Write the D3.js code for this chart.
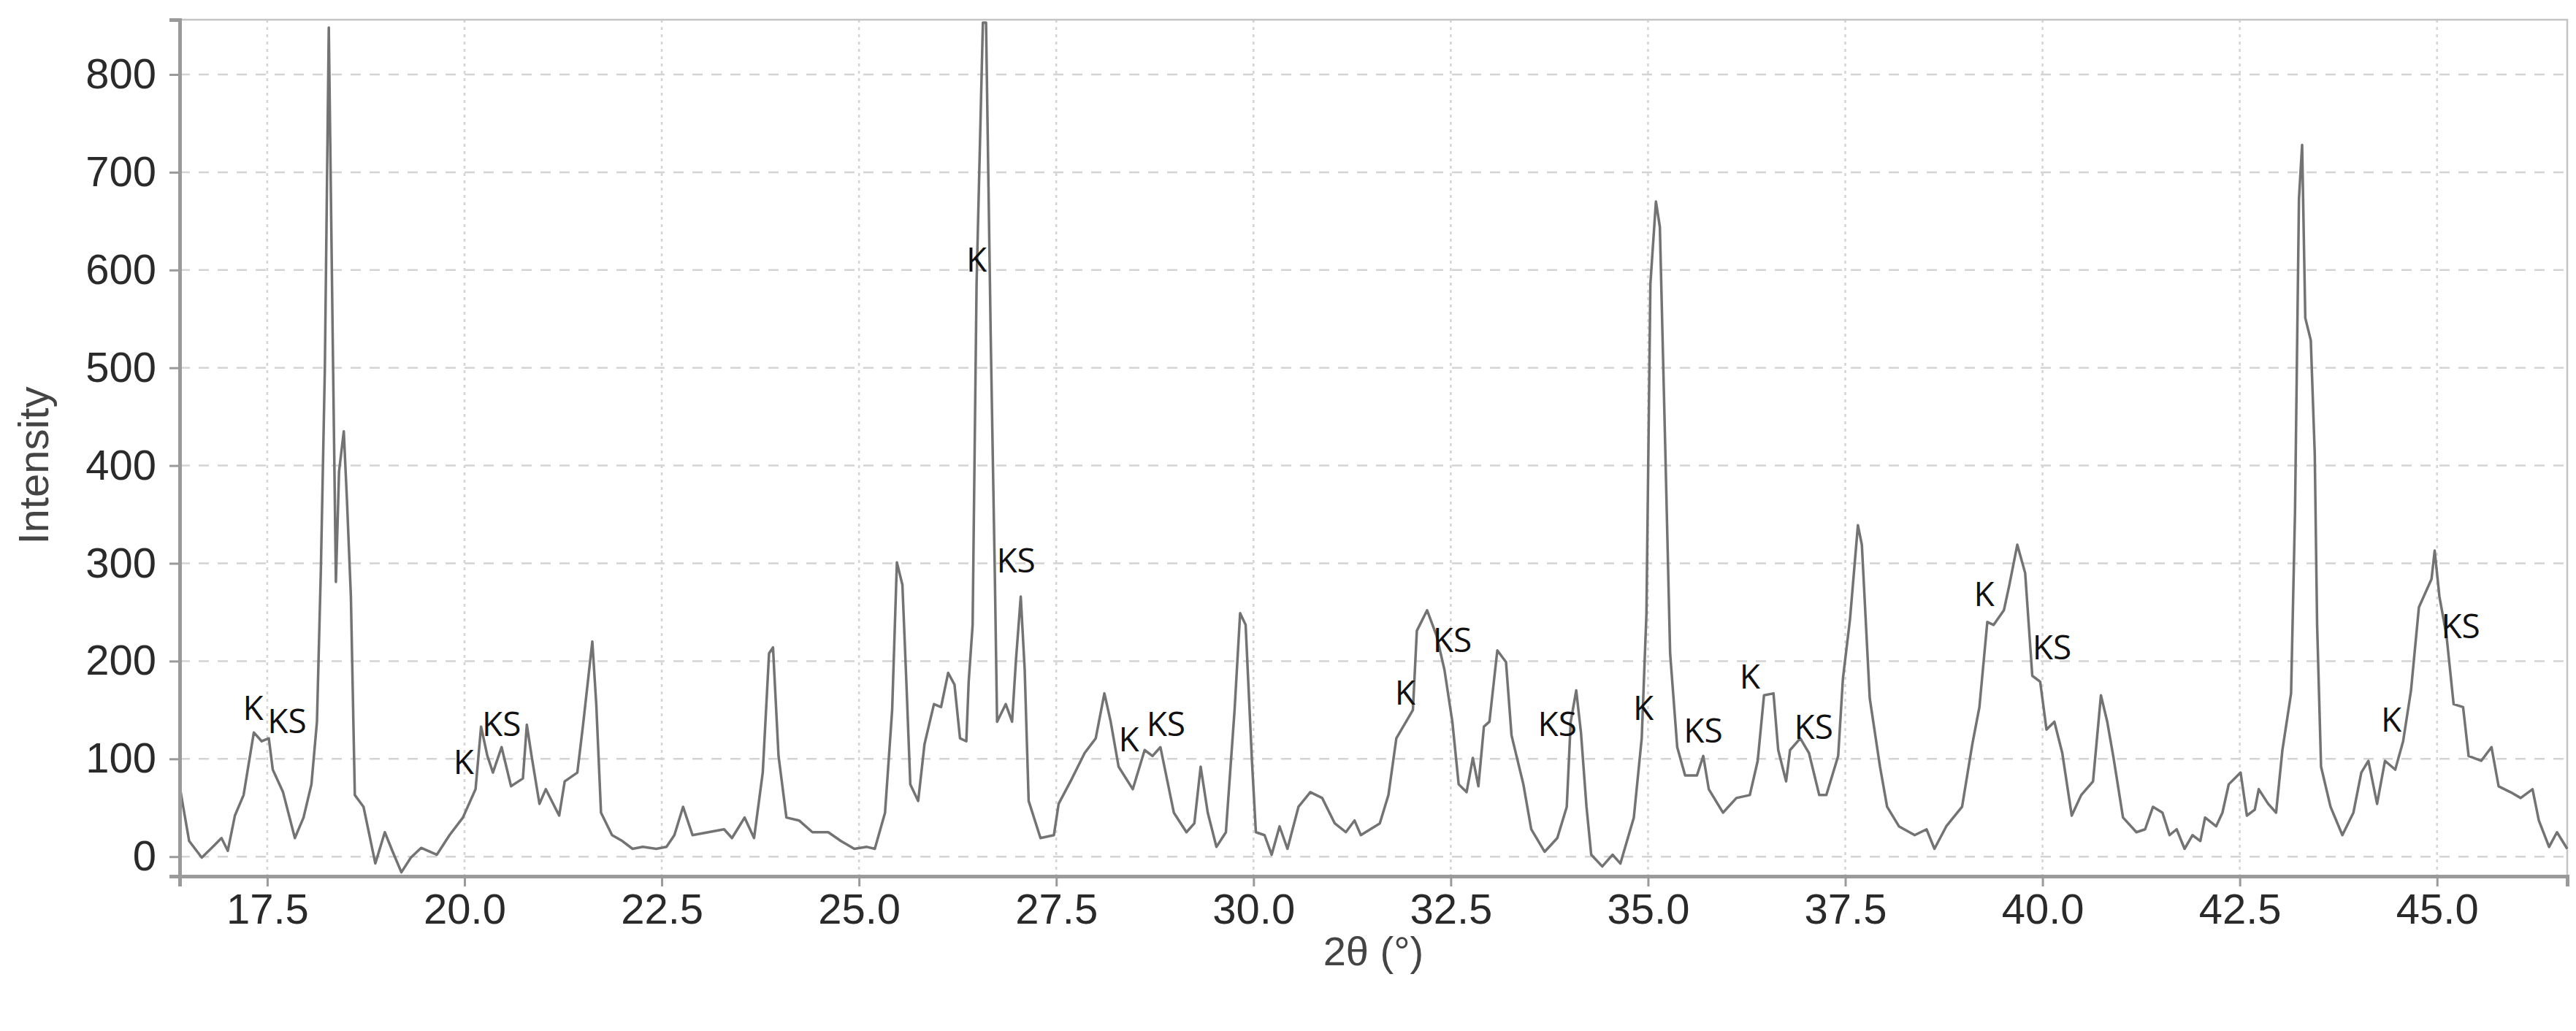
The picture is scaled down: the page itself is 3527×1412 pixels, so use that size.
<!DOCTYPE html>
<html>
<head>
<meta charset="utf-8">
<script src="https://cdn.jsdelivr.net/npm/d3@7"></script>
<style>
  body { margin: 0; background: #fff; }
  svg { display: block; }
</style>
</head>
<body>
<svg id="chart" width="3527" height="1412"></svg>
<script>
// 2θ positions and intensities
const twoTheta = [16.39,16.51,16.67,16.81,16.92,17.0,17.09,17.2,17.33,17.43,17.52,17.57,17.7,17.85,17.96,18.06,18.13,18.18,18.23,18.28,18.33,18.37,18.41,18.47,18.51,18.56,18.61,18.72,18.87,18.99,19.09,19.2,19.32,19.45,19.65,19.81,19.98,20.14,20.21,20.29,20.36,20.47,20.59,20.74,20.79,20.85,20.95,21.03,21.2,21.27,21.43,
  21.5,21.62,21.67,21.73,21.87,22.0,22.13,22.26,22.43,22.56,22.66,22.77,22.89,23.09,23.29,23.39,23.55,23.67,23.78,23.86,23.91,23.98,24.08,24.24,24.41,24.61,24.77,24.94,25.1,25.2,25.33,25.42,25.48,25.55,25.6,25.65,25.75,25.83,25.95,26.04,26.13,26.21,26.28,26.36,26.39,26.44,26.49,26.57,
  26.61,26.67,26.72,26.75,26.86,26.94,26.99,27.05,27.1,27.15,27.3,27.47,27.53,27.7,27.86,28.0,28.11,28.19,28.29,28.47,28.62,28.72,28.82,28.99,29.15,29.25,29.33,29.42,29.53,29.65,29.76,29.83,29.9,29.98,30.03,30.14,30.23,30.33,30.43,30.57,30.72,30.87,31.03,31.17,31.28,31.36,31.6,
  31.71,31.81,32.02,32.07,32.2,32.32,32.42,32.52,32.6,32.7,32.78,32.85,32.92,32.99,33.09,33.2,33.27,33.42,33.52,33.69,33.85,33.97,34.02,34.09,34.15,34.22,34.28,34.42,34.55,34.65,34.82,34.92,34.98,35.03,35.1,35.15,35.22,35.28,35.37,35.47,35.62,35.7,35.77,35.95,36.12,36.29,36.39,36.47,36.59,36.65,36.75,
  36.8,36.93,37.04,37.17,37.26,37.41,37.47,37.56,37.66,37.71,37.81,37.94,38.03,38.18,38.38,38.53,38.63,38.78,38.98,39.11,39.2,39.3,39.38,39.51,39.58,39.68,39.78,39.87,39.97,40.05,40.15,40.25,40.37,40.49,40.64,40.74,40.82,40.9,41.02,41.19,41.3,41.4,41.52,41.61,
  41.7,41.8,41.9,42.0,42.06,42.2,42.28,42.36,42.51,42.59,42.69,42.74,42.86,42.96,43.04,43.15,43.2,43.25,43.29,43.33,43.4,43.45,43.48,43.53,43.65,43.8,43.94,44.04,44.13,44.24,44.34,44.47,44.57,44.67,44.77,44.93,44.97,45.03,45.12,45.21,45.33,45.4,45.56,45.69,45.78,45.93,46.06,46.21,46.29,46.42,46.52,46.65];
const intensity = [72,16,-1,10,19,6,42,63,127,118,121,89,66,19,40,74,138,295,499,848,528,281,394,435,365,266,63,51,-7,25,5,-16,-1,9,2,22,40,69,133,103,86,112,72,80,135,103,54,69,42,77,86,
  133,220,156,45,22,16,8,10,8,10,22,51,22,25,28,19,40,19,86,208,214,103,40,37,25,25,16,8,10,8,45,150,301,278,179,74,57,115,156,153,188,176,121,118,179,237,586,853,
  853,528,295,138,156,138,202,266,191,57,19,22,54,80,106,121,167,138,92,69,109,103,112,45,25,34,92,45,10,25,150,249,237,98,25,22,2,31,8,51,66,60,34,25,37,22,34,
  63,121,150,231,252,226,191,138,74,66,101,72,133,138,211,199,124,74,28,5,19,51,138,170,127,51,2,-10,2,-7,40,121,249,586,670,644,412,208,112,83,83,103,69,45,60,63,98,165,167,109,77,
  109,121,106,63,63,103,182,243,339,319,162,92,51,31,22,28,8,31,51,115,153,240,237,252,278,319,290,185,179,130,138,106,42,63,77,165,138,101,40,25,28,51,45,22,
  28,8,22,16,40,31,45,74,86,42,48,69,54,45,109,167,353,673,728,551,528,412,237,92,51,22,45,86,98,54,98,89,118,170,255,284,313,266,226,156,153,103,98,112,72,66,60,69,37,10,25,8];

// phase annotations as printed on the figure
const labelText = ["K","KS","K","KS","K","KS","K","KS","K","KS","KS","K","KS","K","KS","K","KS","K","KS"];
const labelX = [17.32,17.75,19.99,20.47,26.49,26.99,28.42,28.89,31.92,32.52,33.85,34.94,35.7,36.29,37.1,39.26,40.12,44.42,45.3];
const labelY = [153,140,98,137,612,304,121,137,169,223,137,153,130,185,134,270,215,141,237];

const xTicks = [17.5,20.0,22.5,25.0,27.5,30.0,32.5,35.0,37.5,40.0,42.5,45.0];
const yTicks = [0,100,200,300,400,500,600,700,800];

const margin = { left: 246, right: 12, top: 27, bottom: 212 };
const W = 3527, H = 1412;
const svg = d3.select("#chart");

const x = d3.scaleLinear().domain([16.39, 46.65]).range([margin.left, W - margin.right]);
const y = d3.scaleLinear().domain([-20, 856]).range([H - margin.bottom, margin.top]);

// grid
svg.append("g").selectAll("line").data(yTicks).enter().append("line")
  .attr("x1", margin.left).attr("x2", W - margin.right)
  .attr("y1", d => y(d)).attr("y2", d => y(d))
  .attr("stroke", "#d4d4d4").attr("stroke-width", 2.5).attr("stroke-dasharray", "14,12");
svg.append("g").selectAll("line").data(xTicks).enter().append("line")
  .attr("x1", d => x(d)).attr("x2", d => x(d))
  .attr("y1", margin.top).attr("y2", H - margin.bottom)
  .attr("stroke", "#d4d4d4").attr("stroke-width", 2.5).attr("stroke-dasharray", "4,6");

// frame
svg.append("rect")
  .attr("x", margin.left).attr("y", margin.top)
  .attr("width", W - margin.left - margin.right).attr("height", H - margin.top - margin.bottom)
  .attr("fill", "none").attr("stroke", "#c4c4c4").attr("stroke-width", 2.5);

// trace
const pts = twoTheta.map((t, i) => [t, intensity[i]]);
svg.append("path")
  .datum(pts)
  .attr("fill", "none").attr("stroke", "#737373").attr("stroke-width", 3.5)
  .attr("stroke-linejoin", "round")
  .attr("d", d3.line().x(d => x(d[0])).y(d => y(d[1])));

// axes
const xAxis = svg.append("g")
  .attr("transform", "translate(0," + (H - margin.bottom) + ")")
  .call(d3.axisBottom(x).tickValues(xTicks).tickFormat(d3.format(".1f")).tickSize(14).tickPadding(10));
const yAxis = svg.append("g")
  .attr("transform", "translate(" + margin.left + ",0)")
  .call(d3.axisLeft(y).tickValues(yTicks).tickSize(14).tickPadding(18));
[xAxis, yAxis].forEach(a => {
  a.select(".domain").attr("stroke", "#9a9a9a").attr("stroke-width", 5);
  a.selectAll(".tick line").attr("stroke", "#9a9a9a").attr("stroke-width", 3);
  a.selectAll("text").attr("font-family", "Liberation Sans, Arial, sans-serif")
    .attr("font-size", 58).attr("fill", "#2a2a2a");
});

// annotations
svg.append("g").selectAll("text").data(labelText).enter().append("text")
  .attr("x", (d, i) => x(labelX[i])).attr("y", (d, i) => y(labelY[i]))
  .attr("text-anchor", "middle").attr("dominant-baseline", "central")
  .attr("font-family", "Open Sans, DejaVu Sans, sans-serif").attr("font-size", 46)
  .attr("fill", "#111").text(d => d);

// axis titles
svg.append("text")
  .attr("x", (margin.left + W - margin.right) / 2).attr("y", 1322)
  .attr("text-anchor", "middle")
  .attr("font-family", "Liberation Sans, Arial, sans-serif").attr("font-size", 56).attr("fill", "#444")
  .text("2θ (°)");
svg.append("text")
  .attr("transform", "translate(66," + y(400) + ") rotate(-90)")
  .attr("text-anchor", "middle")
  .attr("font-family", "Liberation Sans Narrow, Liberation Sans, Arial, sans-serif").attr("font-size", 58).attr("fill", "#444")
  .text("Intensity");
</script>
</body>
</html>
